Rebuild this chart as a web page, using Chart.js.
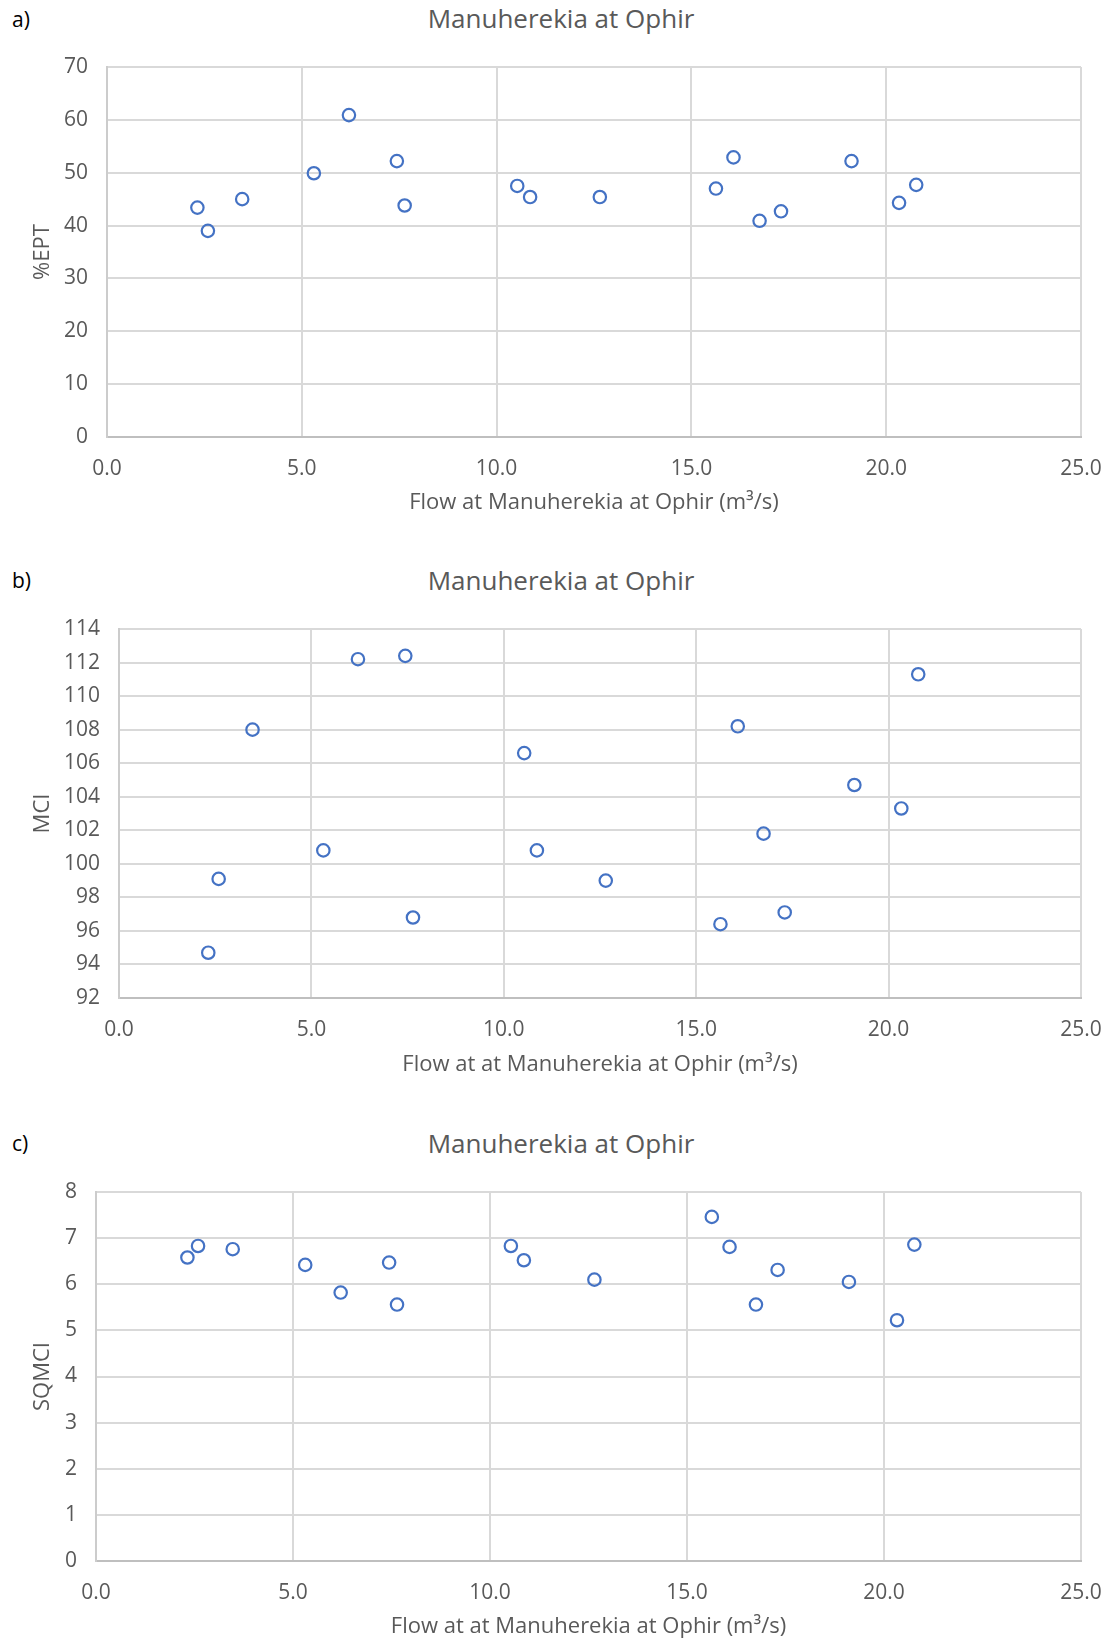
<!DOCTYPE html>
<html>
<head>
<meta charset="utf-8">
<script src="https://cdn.jsdelivr.net/npm/chart.js@4.4.0/dist/chart.umd.min.js"></script>
<style>
body { margin: 0; background: #fff; font-family: "Open Sans", sans-serif; }
#page { position: relative; width: 1112px; height: 1643px; overflow: hidden; }
canvas { position: absolute; left: 0; }
.panel { position: absolute; left: 12px; font-size: 21px; line-height: 21px; color: #000; }
.title { position: absolute; left: 0; width: 1122px; text-align: center; font-size: 26px; line-height: 26px; color: #595959; }
</style>
</head>
<body>
<div id="page">
  <div class="panel" style="top:9px">a)</div>
  <div class="title" style="top:5px">Manuherekia at Ophir</div>
  <canvas id="chartA" width="1112" height="540" style="top:0px"></canvas>

  <div class="panel" style="top:570px">b)</div>
  <div class="title" style="top:567px">Manuherekia at Ophir</div>
  <canvas id="chartB" width="1112" height="540" style="top:560px"></canvas>

  <div class="panel" style="top:1133px">c)</div>
  <div class="title" style="top:1130px">Manuherekia at Ophir</div>
  <canvas id="chartC" width="1112" height="523" style="top:1120px"></canvas>
</div>
<script>
// same sampling occasions in all three panels
const flow  = [2.32, 2.59, 3.47, 5.31, 6.21, 7.44, 7.64, 10.53, 10.86, 12.65, 15.63, 16.08, 16.75, 17.30, 19.11, 20.33, 20.77];
const ept   = [43.4, 39.0, 45.0, 49.9, 60.9, 52.2, 43.8, 47.5, 45.4, 45.4, 47.0, 52.9, 40.9, 42.7, 52.2, 44.3, 47.7];
const mci   = [94.7, 99.1, 108.0, 100.8, 112.2, 112.4, 96.8, 106.6, 100.8, 99.0, 96.4, 108.2, 101.8, 97.1, 104.7, 103.3, 111.3];
const sqmci = [6.58, 6.83, 6.76, 6.42, 5.82, 6.47, 5.56, 6.83, 6.52, 6.10, 7.46, 6.81, 5.56, 6.31, 6.05, 5.22, 6.86];

// [min, max, step]
const xRange     = [0, 25, 5];
const eptRange   = [0, 70, 10];
const mciRange   = [92, 114, 2];
const sqmciRange = [0, 8, 1];

const gridColor = '#d9d9d9';
const textColor = '#595959';
const blue = '#4472c4';

function makeScatter(id, yValues, yRange, yLabel, xLabel, box) {
  const ctx = document.getElementById(id).getContext('2d');
  const H = ctx.canvas.height;
  return new Chart(ctx, {
    type: 'scatter',
    data: {
      datasets: [{
        data: flow.map((f, i) => ({ x: f, y: yValues[i] })),
        pointRadius: 6.2,
        pointBorderWidth: 2.2,
        pointBorderColor: blue,
        pointBackgroundColor: 'rgba(0,0,0,0)'
      }]
    },
    options: {
      responsive: false,
      animation: false,
      devicePixelRatio: 1,
      layout: { padding: { top: box.top, right: 31, bottom: 0, left: 0 } },
      plugins: { legend: { display: false }, tooltip: { enabled: false } },
      scales: {
        x: {
          type: 'linear',
          min: xRange[0], max: xRange[1],
          ticks: { stepSize: xRange[2], padding: 19, color: textColor,
                   font: { family: 'Open Sans', size: 21 },
                   callback: v => v.toFixed(1) },
          grid: { color: gridColor, lineWidth: 2, drawTicks: false },
          border: { color: '#bfbfbf', width: 2 },
          title: { display: true, text: xLabel, color: textColor,
                   font: { family: 'Open Sans', size: 22 },
                   padding: { top: 0, bottom: H - box.xTitle - 13.2 } },
          afterFit: s => { s.height = H - box.bottom; s.paddingLeft = 0; s.paddingRight = 0; }
        },
        y: {
          min: yRange[0], max: yRange[1],
          ticks: { stepSize: yRange[2], padding: 19, color: textColor,
                   font: { family: 'Open Sans', size: 21 } },
          grid: { color: gridColor, lineWidth: 2, drawTicks: false },
          border: { color: '#cccccc', width: 2 },
          title: { display: true, text: yLabel, color: textColor,
                   font: { family: 'Open Sans', size: 22 },
                   padding: { top: 29.5, bottom: 0 } },
          afterFit: s => { s.width = box.left; }
        }
      }
    }
  });
}

makeScatter('chartA', ept, eptRange, '%EPT', 'Flow at Manuherekia at Ophir (m³/s)',
  { top: 67, bottom: 437, left: 107, xTitle: 503 });
makeScatter('chartB', mci, mciRange, 'MCI', 'Flow at at Manuherekia at Ophir (m³/s)',
  { top: 69, bottom: 438, left: 119, xTitle: 505 });
makeScatter('chartC', sqmci, sqmciRange, 'SQMCI', 'Flow at at Manuherekia at Ophir (m³/s)',
  { top: 72, bottom: 441, left: 96, xTitle: 507 });
</script>
</body>
</html>
